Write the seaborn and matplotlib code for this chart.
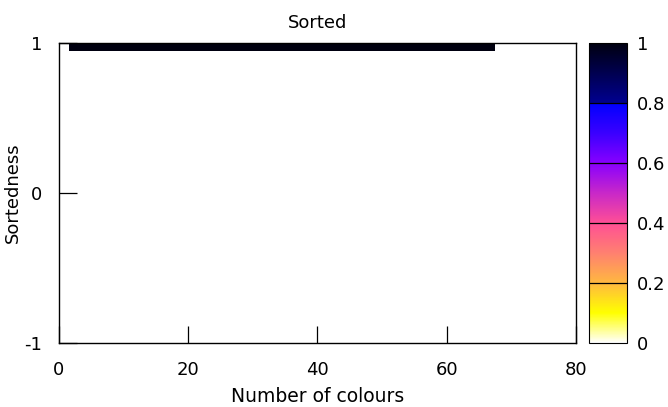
import matplotlib
matplotlib.use("Agg")
import matplotlib.pyplot as plt
import seaborn as sns
import numpy as np
import pandas as pd
from matplotlib.colors import LinearSegmentedColormap, Normalize
from matplotlib.colorbar import ColorbarBase

# ---- data ----
n_colours = [2, 3, 4, 5, 6, 7, 8, 9, 10, 11, 12, 13, 14, 15, 16, 17, 18, 19, 20,
             21, 22, 23, 24, 25, 26, 27, 28, 29, 30, 31, 32, 33, 34, 35, 36, 37,
             38, 39, 40, 41, 42, 43, 44, 45, 46, 47, 48, 49, 50, 51, 52, 53, 54,
             55, 56, 57, 58, 59, 60, 61, 62, 63, 64, 65, 66, 67]
sortedness = [1.0, 1.0, 1.0, 1.0, 1.0, 1.0, 1.0, 1.0, 1.0, 1.0, 1.0, 1.0, 1.0,
              1.0, 1.0, 1.0, 1.0, 1.0, 1.0, 1.0, 1.0, 1.0, 1.0, 1.0, 1.0, 1.0,
              1.0, 1.0, 1.0, 1.0, 1.0, 1.0, 1.0, 1.0, 1.0, 1.0, 1.0, 1.0, 1.0,
              1.0, 1.0, 1.0, 1.0, 1.0, 1.0, 1.0, 1.0, 1.0, 1.0, 1.0, 1.0, 1.0,
              1.0, 1.0, 1.0, 1.0, 1.0, 1.0, 1.0, 1.0, 1.0, 1.0, 1.0, 1.0, 1.0,
              1.0]
# colour value (fraction) of each cell
fraction = [1.0, 1.0, 1.0, 1.0, 1.0, 1.0, 1.0, 1.0, 1.0, 1.0, 1.0, 1.0, 1.0,
            1.0, 1.0, 1.0, 1.0, 1.0, 1.0, 1.0, 1.0, 1.0, 1.0, 1.0, 1.0, 1.0,
            1.0, 1.0, 1.0, 1.0, 1.0, 1.0, 1.0, 1.0, 1.0, 1.0, 1.0, 1.0, 1.0,
            1.0, 1.0, 1.0, 1.0, 1.0, 1.0, 1.0, 1.0, 1.0, 1.0, 1.0, 1.0, 1.0,
            1.0, 1.0, 1.0, 1.0, 1.0, 1.0, 1.0, 1.0, 1.0, 1.0, 1.0, 1.0, 1.0,
            1.0]
title = "Sorted"
x_label = "Number of colours"
y_label = "Sortedness"
x_ticks = [0, 20, 40, 60, 80]
y_ticks = [-1, 0, 1]
cb_ticks = [0, 0.2, 0.4, 0.6, 0.8, 1]
cb_labels = ["0", "0.2", "0.4", "0.6", "0.8", "1"]

df = pd.DataFrame({"n": n_colours, "s": sortedness, "f": fraction})

sns.set_theme(style="white")
plt.rcParams['font.family'] = ['DejaVu Sans']
plt.rcParams['axes.unicode_minus'] = False
plt.rcParams['text.color'] = 'black'
plt.rcParams['axes.labelcolor'] = 'black'
plt.rcParams['xtick.color'] = 'black'
plt.rcParams['ytick.color'] = 'black'

stops = [(0.0, "#ffffff"), (0.1, "#ffff00"), (0.2, "#ffb840"), (0.3, "#ff8070"),
         (0.4, "#ff4f95"), (0.5, "#c828c8"), (0.6, "#8800ff"), (0.7, "#3a00ff"),
         (0.799, "#0000ff"), (0.801, "#000090"), (1.0, "#000010")]
cmap = LinearSegmentedColormap.from_list("pal", stops, N=512)
norm = Normalize(0, 1)

W, H = 668, 407
fig = plt.figure(figsize=(W/100, H/100), dpi=100)
ax = fig.add_axes([59/W, 1-343/H, (576-59)/W, (343-43)/H])
cax = fig.add_axes([589/W, 1-343/H, (627-589)/W, (343-43)/H])

cell_h = 0.1
ax.bar(df["n"], cell_h, bottom=df["s"] - cell_h/2, width=1.0,
       color=[cmap(norm(v)) for v in df["f"]], linewidth=0, zorder=1)
sns.despine(ax=ax, top=False, right=False)

ax.set_xlim(0, 80)
ax.set_ylim(-1, 1)
ax.set_xticks(x_ticks)
ax.set_yticks(y_ticks)
ax.tick_params(axis="x", direction="in", length=12, width=0.9, labelsize=13, pad=13,
               top=False, bottom=True)
ax.tick_params(axis="y", direction="in", length=13, width=0.9, labelsize=13, pad=12,
               left=True, right=False)
for sp in ax.spines.values():
    sp.set_color("black")
    sp.set_linewidth(1.0)
    sp.set_zorder(3)
ax.set_title(title, fontsize=13, pad=11)
ax.set_xlabel(x_label, fontsize=13.5, labelpad=6)
ax.set_ylabel(y_label, fontsize=13, labelpad=2)

cb = ColorbarBase(cax, cmap=cmap, norm=norm, orientation="vertical")
cb.set_ticks(cb_ticks)
cb.set_ticklabels(cb_labels)
cb.outline.set_edgecolor("black")
cb.outline.set_linewidth(0.8)
cax.tick_params(length=0, labelsize=13, pad=7)
for t in cb_ticks[1:-1]:
    cax.axhline(t, color="black", linewidth=0.9)

fig.savefig("out.png", dpi=100)
